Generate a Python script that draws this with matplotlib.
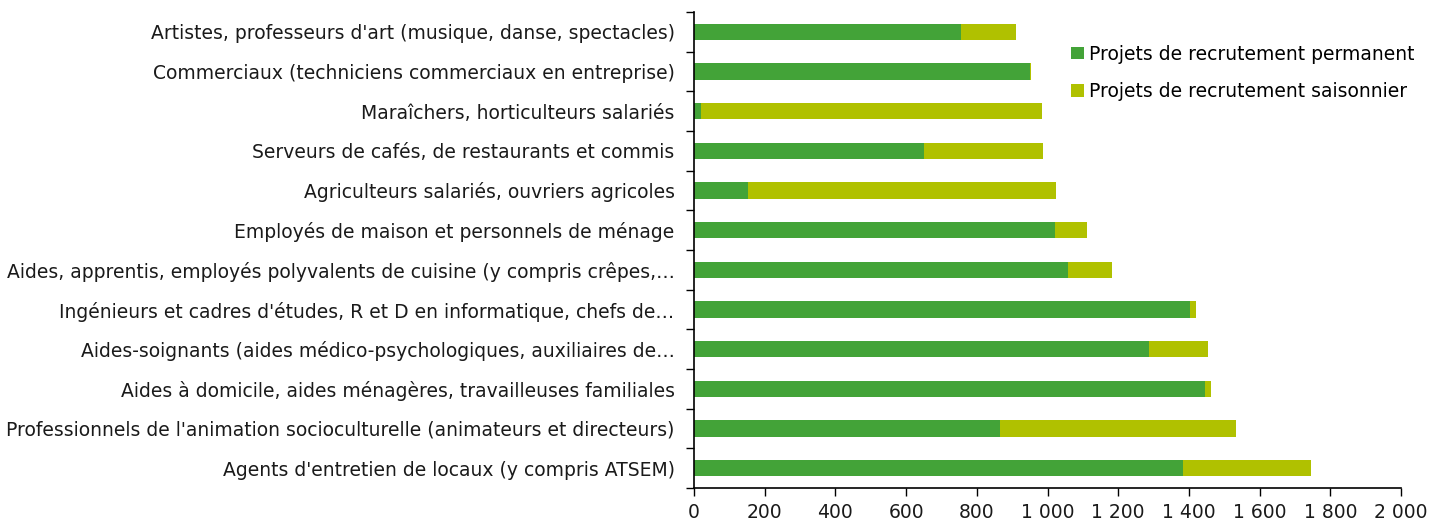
import matplotlib.pyplot as plt
import numpy as np
from matplotlib.ticker import FixedLocator, FuncFormatter

plt.rcParams["font.family"] = ["DejaVu Sans"]

metiers = [
    "Artistes, professeurs d'art (musique, danse, spectacles)",
    "Commerciaux (techniciens commerciaux en entreprise)",
    "Maraîchers, horticulteurs salariés",
    "Serveurs de cafés, de restaurants et commis",
    "Agriculteurs salariés, ouvriers agricoles",
    "Employés de maison et personnels de ménage",
    "Aides, apprentis, employés polyvalents de cuisine (y compris crêpes,…",
    "Ingénieurs et cadres d'études, R et D en informatique, chefs de…",
    "Aides-soignants (aides médico-psychologiques, auxiliaires de…",
    "Aides à domicile, aides ménagères, travailleuses familiales",
    "Professionnels de l'animation socioculturelle (animateurs et directeurs)",
    "Agents d'entretien de locaux (y compris ATSEM)",
]
permanent = [754, 950, 19, 652, 152, 1021, 1057, 1402, 1286, 1445, 866, 1383]
saisonnier = [158, 2, 965, 334, 872, 90, 125, 19, 169, 17, 666, 362]

vert = "#43a338"
jaune = "#b0c100"
fs = 13.5

fig = plt.figure(figsize=(14.29, 5.21), dpi=100)
ax = fig.add_axes([694 / 1429, 1 - 488 / 521, 707 / 1429, 476 / 521])

y = np.arange(len(metiers))
h = 0.41
ax.barh(y, permanent, height=h, color=vert, label="Projets de recrutement permanent")
ax.barh(y, saisonnier, left=permanent, height=h, color=jaune,
        label="Projets de recrutement saisonnier")

ax.set_ylim(len(metiers) - 0.5, -0.5)
ax.set_xlim(0, 2000)
ax.set_yticks(y)
ax.set_yticklabels(metiers, fontsize=fs, color="#1a1a1a")
ax.tick_params(axis="y", length=0, pad=14)
ax.yaxis.set_minor_locator(FixedLocator(np.arange(-0.5, len(metiers), 1)))
ax.tick_params(axis="y", which="minor", length=6, width=1, direction="out")

ax.set_xticks(np.arange(0, 2001, 200))
ax.xaxis.set_major_formatter(FuncFormatter(lambda v, p: f"{int(v):,}".replace(",", " ")))
ax.tick_params(axis="x", length=6, width=1, direction="out", labelsize=fs, pad=5,
               labelcolor="#1a1a1a")

for s in ["top", "right"]:
    ax.spines[s].set_visible(False)
for s in ["left", "bottom"]:
    ax.spines[s].set_linewidth(1.2)

ax.legend(loc="upper left", bbox_to_anchor=(0.51, 0.967), frameon=False, fontsize=fs,
          handlelength=0.65, handleheight=0.65, handletextpad=0.3, labelspacing=1.0)

fig.savefig("out.png", dpi=100)
